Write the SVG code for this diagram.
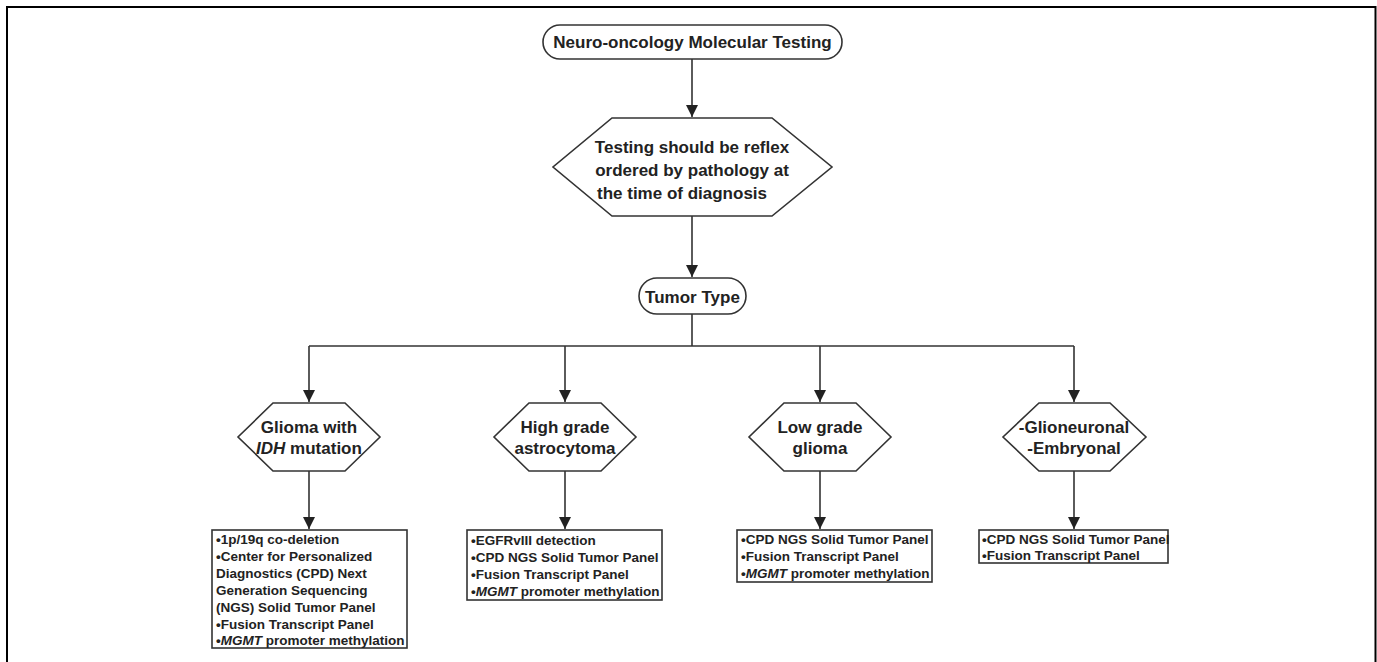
<svg xmlns="http://www.w3.org/2000/svg" width="1377" height="662" viewBox="0 0 1377 662">
<defs>
<marker id="ah" markerWidth="14" markerHeight="14" viewBox="0 0 14 14" refX="12" refY="7" orient="auto" markerUnits="userSpaceOnUse">
<path d="M0,1 L12,7 L0,13 Z" fill="#222"/>
</marker>
<style>
.t{font-family:"Liberation Sans",Arial,sans-serif;font-weight:bold;fill:#222;}
.h{font-size:17px;text-anchor:middle;}
.b{font-size:13.5px;}
.shape{fill:#fff;stroke:#333;stroke-width:1.6;}
.c{fill:none;stroke:#333;stroke-width:1.6;}
.ca{fill:none;stroke:#333;stroke-width:1.6;marker-end:url(#ah);}
</style>
</defs>
<rect width="1377" height="662" fill="#fff"/>
<path d="M7,662 V7 H1375.5 V662" fill="none" stroke="#000" stroke-width="2"/>

<g id="connectors">
<line class="ca" x1="692" y1="59" x2="692" y2="117"/>
<line class="ca" x1="692" y1="216" x2="692" y2="277"/>
<line class="c" x1="692" y1="314" x2="692" y2="346"/>
<line class="c" x1="309" y1="346" x2="1074" y2="346"/>
<line class="ca" x1="309" y1="346" x2="309" y2="402"/>
<line class="ca" x1="565" y1="346" x2="565" y2="402"/>
<line class="ca" x1="820" y1="346" x2="820" y2="402"/>
<line class="ca" x1="1074" y1="346" x2="1074" y2="402"/>
<line class="ca" x1="309" y1="471" x2="309" y2="529"/>
<line class="ca" x1="565" y1="471" x2="565" y2="529"/>
<line class="ca" x1="820" y1="471" x2="820" y2="529"/>
<line class="ca" x1="1074" y1="471" x2="1074" y2="529"/>
</g>

<g id="n-title">
<rect class="shape" x="543" y="25" width="299" height="34" rx="17"/>
<text class="t h" x="692.5" y="48">Neuro-oncology Molecular Testing</text>
</g>

<g id="n-reflex">
<polygon class="shape" points="612,118 772,118 832,167 772,216 612,216 553,167"/>
<text class="t h" x="692" y="153">Testing should be reflex</text>
<text class="t h" x="692" y="176">ordered by pathology at</text>
<text class="t" x="597" y="199" style="font-size:17px">the time of diagnosis</text>
</g>

<g id="n-tumor">
<rect class="shape" x="639" y="278" width="107" height="36" rx="18"/>
<text class="t h" x="692.5" y="303">Tumor Type</text>
</g>

<g id="n-glioma">
<polygon class="shape" points="273,403 345,403 380,437 345,471 273,471 238,437"/>
<text class="t h" x="309" y="433">Glioma with</text>
<text class="t h" x="309" y="454"><tspan font-style="italic">IDH</tspan> mutation</text>
</g>

<g id="n-high">
<polygon class="shape" points="529,403 601,403 636,437 601,471 529,471 494,437"/>
<text class="t h" x="565" y="433">High grade</text>
<text class="t h" x="565" y="454">astrocytoma</text>
</g>

<g id="n-low">
<polygon class="shape" points="784,403 856,403 891,437 856,471 784,471 749,437"/>
<text class="t h" x="820" y="433">Low grade</text>
<text class="t h" x="820" y="454">glioma</text>
</g>

<g id="n-glioneuronal">
<polygon class="shape" points="1039,403 1110,403 1146,437 1110,471 1039,471 1003,437"/>
<text class="t h" x="1074" y="433">-Glioneuronal</text>
<text class="t h" x="1074" y="454">-Embryonal</text>
</g>

<g id="n-box1">
<rect class="shape" x="212" y="530" width="195" height="118"/>
<text class="t b" x="216" y="544">•1p/19q co-deletion</text>
<text class="t b" x="216" y="561">•Center for Personalized</text>
<text class="t b" x="216" y="578">Diagnostics (CPD) Next</text>
<text class="t b" x="216" y="595">Generation Sequencing</text>
<text class="t b" x="216" y="612">(NGS) Solid Tumor Panel</text>
<text class="t b" x="216" y="629">•Fusion Transcript Panel</text>
<text class="t b" x="216" y="645">•<tspan font-style="italic">MGMT</tspan> promoter methylation</text>
</g>

<g id="n-box2">
<rect class="shape" x="467" y="530" width="195" height="70"/>
<text class="t b" x="471" y="545">•EGFRvIII detection</text>
<text class="t b" x="471" y="562">•CPD NGS Solid Tumor Panel</text>
<text class="t b" x="471" y="579">•Fusion Transcript Panel</text>
<text class="t b" x="471" y="596">•<tspan font-style="italic">MGMT</tspan> promoter methylation</text>
</g>

<g id="n-box3">
<rect class="shape" x="737" y="530" width="195" height="52"/>
<text class="t b" x="741" y="544">•CPD NGS Solid Tumor Panel</text>
<text class="t b" x="741" y="561">•Fusion Transcript Panel</text>
<text class="t b" x="741" y="578">•<tspan font-style="italic">MGMT</tspan> promoter methylation</text>
</g>

<g id="n-box4">
<rect class="shape" x="979" y="530" width="189" height="33"/>
<text class="t b" x="982" y="544">•CPD NGS Solid Tumor Panel</text>
<text class="t b" x="982" y="560">•Fusion Transcript Panel</text>
</g>
</svg>
